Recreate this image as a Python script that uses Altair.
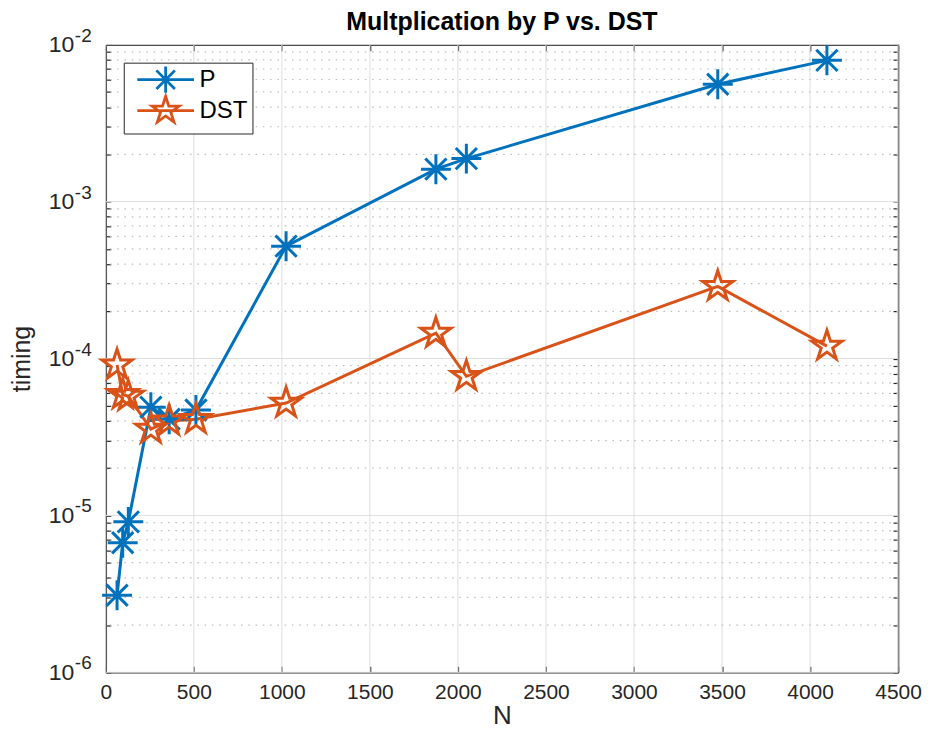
import altair as alt
import pandas as pd

# ---------------- data ----------------
N_VALUES = [64, 96, 128, 256, 360, 512, 1024, 1875, 2048, 3476, 4096]
TIMING_P = [3.1e-6, 6.7e-6, 9.1e-6, 4.9e-5, 4.1e-5, 4.7e-5, 5.2e-4, 1.61e-3, 1.88e-3, 5.6e-3, 7.95e-3]
TIMING_DST = [9.1e-5, 5.9e-5, 5.75e-5, 3.55e-5, 4.0e-5, 4.1e-5, 5.2e-5, 1.45e-4, 7.7e-5, 2.88e-4, 1.2e-4]
SERIES = ["P", "DST"]

X_TICKS = [0, 500, 1000, 1500, 2000, 2500, 3000, 3500, 4000, 4500]
Y_MAJOR = [1e-6, 1e-5, 1e-4, 1e-3, 1e-2]
Y_EXP = ["-6", "-5", "-4", "-3", "-2"]
Y_MINOR = [k * m for m in [1e-6, 1e-5, 1e-4, 1e-3] for k in range(2, 10)]
Y_ALL = sorted(Y_MAJOR + Y_MINOR)

TITLE = "Multplication by P vs. DST"

# ---------------- style ----------------
W, H = 794, 629
BLUE = "#0072BD"
ORANGE = "#D95319"
AX = "#262626"
SANS = "Liberation Sans, Arial, Helvetica"

ASTERISK = "M-1,0L1,0M0,-1L0,1M-0.71,-0.71L0.71,0.71M-0.71,0.71L0.71,-0.71"
STAR = ("M0,-1L0.2245,-0.309L0.951,-0.309L0.363,0.118L0.588,0.809L0,0.382"
        "L-0.588,0.809L-0.363,0.118L-0.951,-0.309L-0.2245,-0.309Z")
LEG_AST = ("M-5.42,0L5.42,0M0,-2.5L0,2.5M-1.77,-1.77L1.77,1.77M-1.77,1.77L1.77,-1.77")
LEG_STAR = ("M-5.42,0L5.42,0M0,-2.71L0.608,-0.837L2.577,-0.837L0.984,0.32L1.593,2.192"
            "L0,1.035L-1.593,2.192L-0.984,0.32L-2.577,-0.837L-0.608,-0.837Z")

xs = alt.Scale(domain=[0, 4500], nice=False, zero=False)
ys = alt.Scale(type="log", domain=[1e-6, 1e-2], nice=False)

df = pd.DataFrame({
    "N": N_VALUES * 2,
    "timing": TIMING_P + TIMING_DST,
    "series": ["P"] * len(N_VALUES) + ["DST"] * len(N_VALUES),
})
dfP = df[df.series == "P"]
dfD = df[df.series == "DST"]

# ---------------- grid layers (with the labelled axes) ----------------
xgrid = alt.Chart(pd.DataFrame({"N": X_TICKS})).mark_rule(
    color="#dedede", strokeWidth=1
).encode(
    x=alt.X("N:Q", scale=xs, axis=alt.Axis(
        orient="bottom", values=X_TICKS, format="d", title="N", ticks=False, grid=False,
        domain=True, domainColor=AX, domainWidth=1.5,
        labelFont=SANS, labelFontSize=21, labelColor=AX, labelPadding=9,
        labelFlush=False, labelOverlap=False,
        titleFont=SANS, titleFontSize=26, titleFontWeight="normal",
        titleColor=AX, titlePadding=0))
)

ygrid = alt.Chart(pd.DataFrame({"timing": Y_MAJOR})).mark_rule(
    color="#dedede", strokeWidth=1
).encode(
    y=alt.Y("timing:Q", scale=ys, axis=alt.Axis(
        orient="left", values=Y_MAJOR, title="timing", ticks=False, grid=False,
        labelExpr="'10'", domain=True, domainColor=AX, domainWidth=1.5,
        labelFont=SANS, labelFontSize=23, labelColor=AX, labelPadding=32,
        labelBaseline="middle", labelFlush=False, labelOverlap=False,
        titleFont=SANS, titleFontSize=25, titleFontWeight="normal",
        titleColor=AX, titlePadding=14))
)

yminor = alt.Chart(pd.DataFrame({"timing": Y_MINOR})).mark_rule(
    color="#bdbdbd", strokeWidth=1.2, strokeDash=[1.5, 5.8]
).encode(
    y=alt.Y("timing:Q", scale=ys, axis=alt.Axis(
        orient="right", offset=-W, values=Y_ALL, labels=False, title=None,
        domain=False, grid=False, ticks=True, tickSize=5, tickColor=AX,
        tickWidth=1.2))
)

exps = alt.Chart(pd.DataFrame({"N": [0] * len(Y_MAJOR), "timing": Y_MAJOR, "exp": Y_EXP})).mark_text(
    align="left", baseline="middle", dx=-31, dy=-9, font=SANS, fontSize=19, color=AX
).encode(
    x=alt.X("N:Q", scale=xs, axis=None),
    y=alt.Y("timing:Q", scale=ys, axis=None),
    text="exp:N",
)

# ---------------- series ----------------
lineP = alt.Chart(dfP).mark_line(color=BLUE, strokeWidth=3).encode(
    x=alt.X("N:Q", scale=xs, axis=alt.Axis(
        orient="top", offset=-H, values=X_TICKS, labels=False, title=None,
        domain=False, grid=False, ticks=True, tickSize=6, tickColor=AX, tickWidth=1.2)),
    y=alt.Y("timing:Q", scale=ys, axis=alt.Axis(
        orient="left", offset=-W, values=Y_ALL, labels=False, title=None,
        domain=True, domainColor=AX, domainWidth=1.5, grid=False, ticks=True,
        tickSize=5, tickColor=AX, tickWidth=1.2)),
)

lineD = alt.Chart(dfD).mark_line(color=ORANGE, strokeWidth=3).encode(
    x=alt.X("N:Q", scale=xs, axis=alt.Axis(
        orient="bottom", offset=-H, values=X_TICKS, labels=False, title=None,
        domain=True, domainColor=AX, domainWidth=1.5, grid=False, ticks=True,
        tickSize=6, tickColor=AX, tickWidth=1.2)),
    y=alt.Y("timing:Q", scale=ys, axis=None),
)

ptsP = alt.Chart(dfP).mark_point(
    shape=ASTERISK, size=900, filled=False, strokeWidth=3, color=BLUE, opacity=1
).encode(
    x=alt.X("N:Q", scale=xs, axis=None),
    y=alt.Y("timing:Q", scale=ys, axis=None),
)

ptsD = alt.Chart(dfD).mark_point(
    shape=STAR, size=1000, filled=False, strokeWidth=3, color=ORANGE, opacity=1
).encode(
    x=alt.X("N:Q", scale=xs, axis=None),
    y=alt.Y("timing:Q", scale=ys, axis=None),
)

legend = alt.Legend(
    title=None, orient="none", legendX=18, legendY=18,
    labelFont=SANS, labelFontSize=24, labelColor="black",
    symbolSize=110, symbolStrokeWidth=2.8, symbolOpacity=1,
    symbolOffset=25, labelOffset=22, rowPadding=-15, padding=5,
    fillColor="white", strokeColor=AX,
)

leg = alt.Chart(df).transform_filter("false").mark_point(
    filled=False, strokeWidth=2.8, size=110, opacity=1
).encode(
    color=alt.Color("series:N", scale=alt.Scale(domain=SERIES, range=[BLUE, ORANGE]), legend=legend),
    shape=alt.Shape("series:N", scale=alt.Scale(domain=SERIES, range=[LEG_AST, LEG_STAR]), legend=legend),
)

chart = alt.layer(
    xgrid, ygrid, yminor, lineP, lineD, ptsP, ptsD, exps, leg
).resolve_axis(
    x="independent", y="independent"
).properties(
    width=W, height=H,
    padding={"left": 1, "top": 1, "right": 0, "bottom": 0},
    title=alt.TitleParams(TITLE, font=SANS, fontSize=25, fontWeight="bold",
                          color="black", anchor="middle", offset=-8, frame="group"),
    background="white",
).configure_view(stroke=None)

chart.save("out.html", embed_options={"renderer": "svg", "actions": False})
